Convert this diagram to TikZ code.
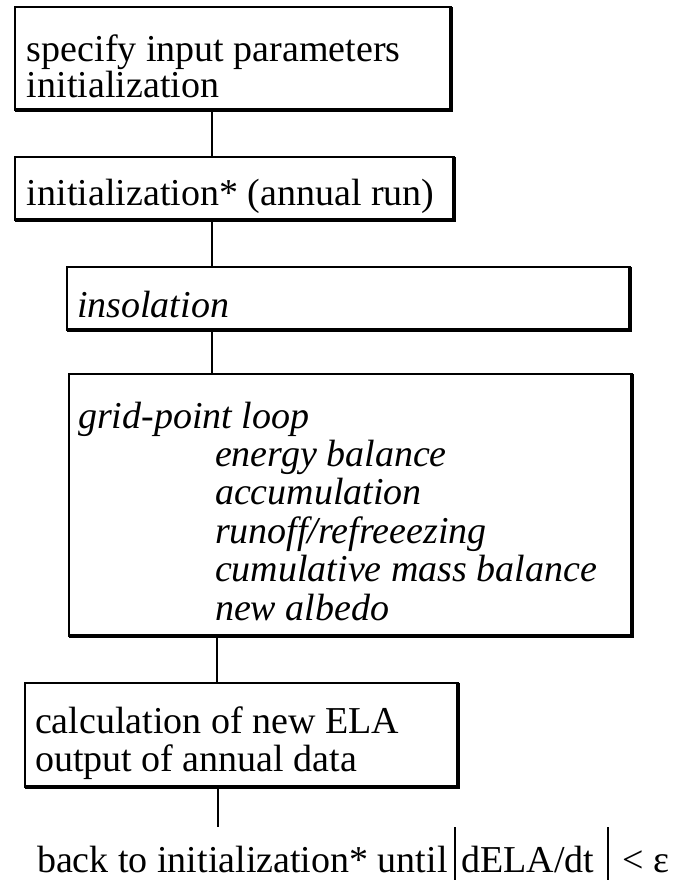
\documentclass[tikz,border=0pt]{standalone}
\usepackage{fontspec}
\setmainfont{Liberation Serif}
\begin{document}
\begin{tikzpicture}[x=1pt,y=-1pt,
  box/.style={draw, line width=2pt, inner sep=0pt, outer sep=0pt, anchor=north west},
  heavyedge/.style={line width=4.5pt, line join=miter},
  txt/.style={anchor=base west, inner sep=0pt, outer sep=0pt, font=\fontsize{38}{38}\selectfont},
  itxt/.style={anchor=base west, inner sep=0pt, outer sep=0pt, font=\fontsize{38}{38}\selectfont\itshape},
  link/.style={line width=2pt}]
\useasboundingbox (0,0) rectangle (684,880);
% boxes
\node[box, minimum width=436pt, minimum height=103pt] (b1) at (15,7) {};
\node[box, minimum width=439pt, minimum height=63pt] (b2) at (15,157) {};
\node[box, minimum width=563pt, minimum height=63pt] (b3) at (67,267) {};
\node[box, minimum width=563pt, minimum height=262pt] (b4) at (69,374) {};
\node[box, minimum width=433pt, minimum height=104pt] (b5) at (25,683) {};
\foreach \b in {b1,b2,b3,b4,b5}
  \draw[heavyedge] (\b.north east) -- (\b.south east) -- (\b.south west);
% texts
\node[txt] (t1a) at (27,62) {specify input parameters};
\node[txt] (t1b) at (27,98) {initialization};
\node[txt] (t2) at (27,205) {initialization* (annual run)};
\node[itxt] (t3) at (77,317) {insolation};
\node[itxt] (t4a) at (78,428) {grid-point loop};
\node[itxt] (t4b) at (215,466) {energy balance};
\node[itxt] (t4c) at (215,504) {accumulation};
\node[itxt] (t4d) at (215,543) {runoff/refreeezing};
\node[itxt] (t4e) at (215,581) {cumulative mass balance};
\node[itxt] (t4f) at (215,620) {new albedo};
\node[txt] (t5a) at (35,733) {calculation of new ELA};
\node[txt] (t5b) at (35,771) {output of annual data};
\node[txt] (t6) at (37,872) {back to initialization* until\hspace{6pt}\rule[-8pt]{2pt}{53pt}\hspace{6pt}dELA/dt\hspace{12pt}\rule[-8pt]{2pt}{53pt}\hspace{14pt}< ε};
% connector x positions
\coordinate (xa) at (212,0);
\coordinate (xb) at (217,0);
\coordinate (xc) at (218,0);
\coordinate (end) at (218,827);
\draw[link] (b1.south -| xa) -- (b2.north -| xa);
\draw[link] (b2.south -| xa) -- (b3.north -| xa);
\draw[link] (b3.south -| xa) -- (b4.north -| xa);
\draw[link] (b4.south -| xb) -- (b5.north -| xb);
\draw[link] (b5.south -| xc) -- (end);
\end{tikzpicture}
\end{document}
